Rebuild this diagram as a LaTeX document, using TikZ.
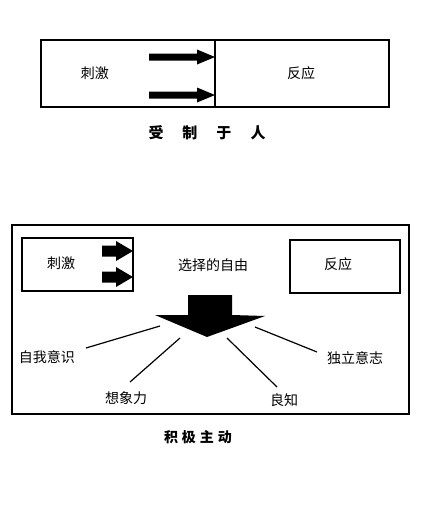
\documentclass[tikz,border=0pt]{standalone}
\usepackage{fontspec}
\setmainfont{Noto Sans CJK SC}
\usetikzlibrary{positioning}

\begin{document}
\begin{tikzpicture}[x=1pt,y=-1pt,
    frame/.style={draw,line width=1.2pt},
    lbl/.style={font=\fontsize{14}{16}\selectfont,inner sep=0pt},
    ttl/.style={font=\fontsize{15}{17}\selectfont\bfseries,inner sep=0pt},
    ray/.style={line width=1.2pt}]
  \useasboundingbox (0,0) rectangle (421,515);
  % upper picture
  \draw[frame] (41,40) rectangle (389,107);
  \draw[frame] (215,40) -- (215,107);
  \node[lbl] (stimA) at (95,73) {刺激};
  \node[lbl] (respA) at (301,73) {反应};
  \foreach \y in {57,95}
    \fill (149,{\y-3.5}) -- (197,{\y-3.5}) -- (197,{\y-7.5}) -- (215,\y)
      -- (197,{\y+7.5}) -- (197,{\y+3.5}) -- (149,{\y+3.5}) -- cycle;
  \node[ttl] (reactive) at (207,133) {受\hspace{19pt}制\hspace{19pt}于\hspace{19pt}人};
  % lower picture
  \draw[frame] (12,225) rectangle (409,414);
  \draw[frame] (22,238) rectangle (133,291);
  \draw[frame] (290,240) rectangle (400,293);
  \node[lbl] (stimB) at (61,263) {刺激};
  \node[lbl] (respB) at (338,264) {反应};
  \node[lbl] (choice) at (213,265) {选择的自由};
  \foreach \y in {251,277}
    \fill (102,{\y-5.5}) -- (116,{\y-5.5}) -- (116,{\y-10}) -- (133,\y)
      -- (116,{\y+10}) -- (116,{\y+5.5}) -- (102,{\y+5.5}) -- cycle;
  \fill (188,295) -- (232,295) -- (232,315) -- (265,316) -- (207,337)
    -- (155,315) -- (188,315) -- cycle;
  \coordinate (r1) at (160,326);
  \coordinate (r2) at (180,338);
  \coordinate (r3) at (227,338);
  \coordinate (r4) at (255,327);
  \coordinate (e1) at (86,348);
  \coordinate (e2) at (130,382);
  \coordinate (e3) at (277,387);
  \coordinate (e4) at (317,352);
  \draw[ray] (r1) -- (e1);
  \draw[ray] (r2) -- (e2);
  \draw[ray] (r3) -- (e3);
  \draw[ray] (r4) -- (e4);
  \node[lbl] (selfaw) at (47,357) {自我意识};
  \node[lbl] (imag) at (126,398) {想象力};
  \node[lbl] (consc) at (284,400) {良知};
  \node[lbl] (will) at (355,358) {独立意志};
  \node[ttl,font=\fontsize{14}{16}\selectfont\bfseries] (proactive) at (198,437) {积\hspace{4pt}极\hspace{4pt}主\hspace{4pt}动};
\end{tikzpicture}
\end{document}
